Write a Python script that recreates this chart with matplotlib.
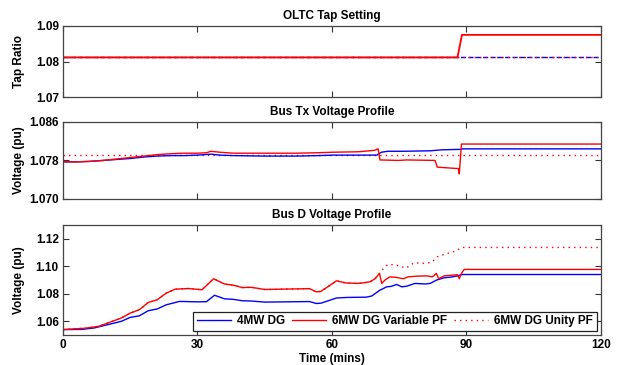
import matplotlib
matplotlib.use("Agg")
import matplotlib.pyplot as plt

plt.rcParams['font.family'] = ['Liberation Sans', 'DejaVu Sans']
plt.rcParams['font.weight'] = 'bold'

# ---------------- data ----------------
# OLTC tap setting
tap_t = [0, 88.0, 89.0, 120]
tap_4mw = [1.0812, 1.0812, 1.0812, 1.0812]
tap_var = [1.0812, 1.0812, 1.0875, 1.0875]
tap_unity = [1.0812, 1.0812, 1.0812, 1.0812]

# Bus Tx voltage
tx_t_4mw = [0, 3, 6, 9, 12, 15, 18, 21, 24, 27, 30, 33, 35, 38, 45, 52, 57, 60, 66,
            70, 71, 72.5, 76, 82, 84.5, 88.8, 89, 120]
tx_4mw = [1.0777, 1.0777, 1.0778, 1.0780, 1.0782, 1.0784, 1.0787, 1.0789, 1.0790, 1.0790,
          1.0791, 1.0793, 1.0791, 1.0790, 1.0789, 1.0789, 1.0790, 1.0791, 1.0791,
          1.0791, 1.0797, 1.0799, 1.0799, 1.0800, 1.0802, 1.0803, 1.0804, 1.0804]
tx_t_var = [0, 3, 6, 9, 12, 15, 18, 21, 24, 27, 30, 32, 33, 35, 38, 45, 52, 57, 60, 66,
            69.5, 70.3, 70.7, 74.8, 76.7, 83.0, 83.5, 88.2, 88.4, 88.9, 120]
tx_var = [1.0777, 1.0777, 1.0778, 1.0780, 1.0783, 1.0786, 1.0789, 1.0792, 1.0794, 1.0795,
          1.0795, 1.0796, 1.0799, 1.0797, 1.0795, 1.0795, 1.0795, 1.0796, 1.0797, 1.0798,
          1.0801, 1.0804, 1.0781, 1.0780, 1.0781, 1.0780, 1.0766, 1.0763, 1.0752, 1.0814, 1.0814]
tx_t_unity = [0, 120]
tx_unity = [1.0792, 1.0792]

# Bus D voltage
d_t_4mw = [0, 4, 7, 10, 13, 15, 17, 19, 21, 23, 26, 30, 32, 33.8, 36, 38, 40, 42, 45, 50,
           55, 56.5, 57.5, 59, 61, 63.3, 67.7, 68.9, 70.7, 72.2, 73.3, 74.4, 75.6, 76.7,
           78.5, 80.8, 81.9, 83.3, 85, 86.5, 88, 89.1, 120]
d_4mw = [1.0540, 1.0541, 1.0552, 1.0576, 1.0600, 1.0629, 1.0640, 1.0677, 1.0690, 1.0720,
         1.0745, 1.0742, 1.0743, 1.0790, 1.0764, 1.0760, 1.0750, 1.0748, 1.0740, 1.0742,
         1.0744, 1.0730, 1.0732, 1.0748, 1.0770, 1.0774, 1.0776, 1.0785, 1.0827, 1.0851,
         1.0855, 1.0869, 1.0851, 1.0856, 1.0876, 1.0872, 1.0876, 1.0900, 1.0917, 1.0922,
         1.0931, 1.0941, 1.0941]
d_t_var = [0, 5, 8, 11, 13, 15, 17, 19, 21, 23, 25, 28, 31, 33.6, 36, 38, 40, 42, 45, 50,
           55, 56.5, 57.5, 59, 61, 63, 65.6, 67, 68.5, 69.6, 70.6, 71.1, 71.8, 72.9, 74.4,
           75.9, 77, 78.9, 81.2, 82.4, 83.3, 83.8, 85, 86.5, 88, 88.4, 88.8, 89.5, 120]
d_var = [1.0540, 1.0550, 1.0564, 1.0600, 1.0624, 1.0660, 1.0684, 1.0737, 1.0757, 1.0805,
         1.0834, 1.0839, 1.0830, 1.0910, 1.0872, 1.0863, 1.0846, 1.0848, 1.0832, 1.0835,
         1.0838, 1.0815, 1.0818, 1.0850, 1.0895, 1.0880, 1.0876, 1.0880, 1.0888, 1.0910,
         1.0949, 1.0876, 1.0900, 1.0924, 1.0920, 1.0910, 1.0924, 1.0929, 1.0931, 1.0924,
         1.0949, 1.0910, 1.0931, 1.0935, 1.0940, 1.0910, 1.0945, 1.0978, 1.0978]
d_t_unity = [0, 5, 8, 11, 13, 15, 17, 19, 21, 23, 25, 28, 31, 33.6, 36, 38, 40, 42, 45, 50,
             55, 56.5, 57.5, 59, 61, 63, 65.6, 67, 68.5, 69.6, 70.6, 71.8, 72.5, 74,
             75.6, 76.5, 78.3, 81.2, 82.4, 83.5, 85, 87.3, 89.1, 120]
d_unity = [1.0540, 1.0550, 1.0564, 1.0600, 1.0624, 1.0660, 1.0684, 1.0737, 1.0757, 1.0805,
           1.0834, 1.0839, 1.0830, 1.0910, 1.0872, 1.0863, 1.0846, 1.0848, 1.0832, 1.0835,
           1.0838, 1.0815, 1.0818, 1.0850, 1.0895, 1.0880, 1.0876, 1.0880, 1.0888, 1.0910,
           1.0949, 1.0997, 1.1014, 1.1012, 1.0997, 1.0988, 1.1026, 1.1022, 1.1035, 1.1070,
           1.1087, 1.1109, 1.1138, 1.1138]

x_ticks = [0, 30, 60, 90, 120]
legend_labels = ['4MW DG', '6MW DG Variable PF', '6MW DG Unity PF']
titles = ['OLTC Tap Setting', 'Bus Tx Voltage Profile', 'Bus D Voltage Profile']

# ---------------- plotting ----------------
BLUE = '#0000ff'
RED = '#ff0000'
fs = 8.5

fig = plt.figure(figsize=(6.24, 3.65), dpi=100)
ax1 = fig.add_axes([0.101, 0.733, 0.862, 0.196])
ax2 = fig.add_axes([0.101, 0.455, 0.862, 0.211])
ax3 = fig.add_axes([0.101, 0.082, 0.862, 0.301])

for ax in (ax1, ax2, ax3):
    ax.set_xlim(0, 120)
    ax.set_xticks(x_ticks)
    ax.tick_params(direction='in', top=True, right=True, length=4, width=0.8,
                   labelsize=fs, color='#333333', pad=3)
    for s in ax.spines.values():
        s.set_color('#444444')
        s.set_linewidth(0.9)

# Axes 1
ax1.plot(tap_t, tap_4mw, color=BLUE, lw=1, ls='--')
ax1.plot(tap_t, tap_unity, color=RED, lw=1, ls=(0, (1, 3)))
ax1.plot(tap_t, tap_var, color=RED, lw=1.3)
ax1.set_ylim(1.07, 1.09)
ax1.set_yticks([1.07, 1.08, 1.09])
ax1.set_yticklabels(['1.07', '1.08', '1.09'], fontweight='bold')
ax1.set_xticklabels([])
ax1.set_title(titles[0], fontsize=fs, fontweight='bold', pad=5)
ax1.set_ylabel('Tap Ratio', fontsize=fs, fontweight='bold', labelpad=8)

# Axes 2
ax2.plot(tx_t_unity, tx_unity, color=RED, lw=1, ls=(0, (1, 3)))
ax2.plot(tx_t_4mw, tx_4mw, color=BLUE, lw=1)
ax2.plot(tx_t_var, tx_var, color=RED, lw=1)
ax2.set_ylim(1.070, 1.086)
ax2.set_yticks([1.070, 1.078, 1.086])
ax2.set_yticklabels(['1.070', '1.078', '1.086'], fontweight='bold')
ax2.set_xticklabels([])
ax2.set_title(titles[1], fontsize=fs, fontweight='bold', pad=5)
ax2.set_ylabel('Voltage (pu)', fontsize=fs, fontweight='bold', labelpad=3)

# Axes 3
l3 = ax3.plot(d_t_unity, d_unity, color=RED, lw=1, ls=(0, (1, 3)), label=legend_labels[2])
l1 = ax3.plot(d_t_4mw, d_4mw, color=BLUE, lw=1, label=legend_labels[0])
l2 = ax3.plot(d_t_var, d_var, color=RED, lw=1, label=legend_labels[1])
ax3.set_ylim(1.05, 1.13)
ax3.set_yticks([1.06, 1.08, 1.10, 1.12])
ax3.set_yticklabels(['1.06', '1.08', '1.10', '1.12'], fontweight='bold')
ax3.set_xticklabels([str(v) for v in x_ticks], fontweight='bold')
ax3.set_title(titles[2], fontsize=fs, fontweight='bold', pad=5)
ax3.set_ylabel('Voltage (pu)', fontsize=fs, fontweight='bold', labelpad=8)
ax3.set_xlabel('Time (mins)', fontsize=fs, fontweight='bold', labelpad=1)

leg = ax3.legend(handles=[l1[0], l2[0], l3[0]], labels=legend_labels, ncol=3,
                 loc='lower right', bbox_to_anchor=(0.992, 0.04),
                 fancybox=False, framealpha=1, edgecolor='#222222',
                 prop={'size': fs, 'weight': 'bold'}, handlelength=2.9,
                 columnspacing=0.6, handletextpad=0.5, borderpad=0.3,
                 borderaxespad=0)
leg.get_frame().set_linewidth(0.9)

fig.align_ylabels([ax1, ax2, ax3])
fig.savefig('out.png', dpi=100)
